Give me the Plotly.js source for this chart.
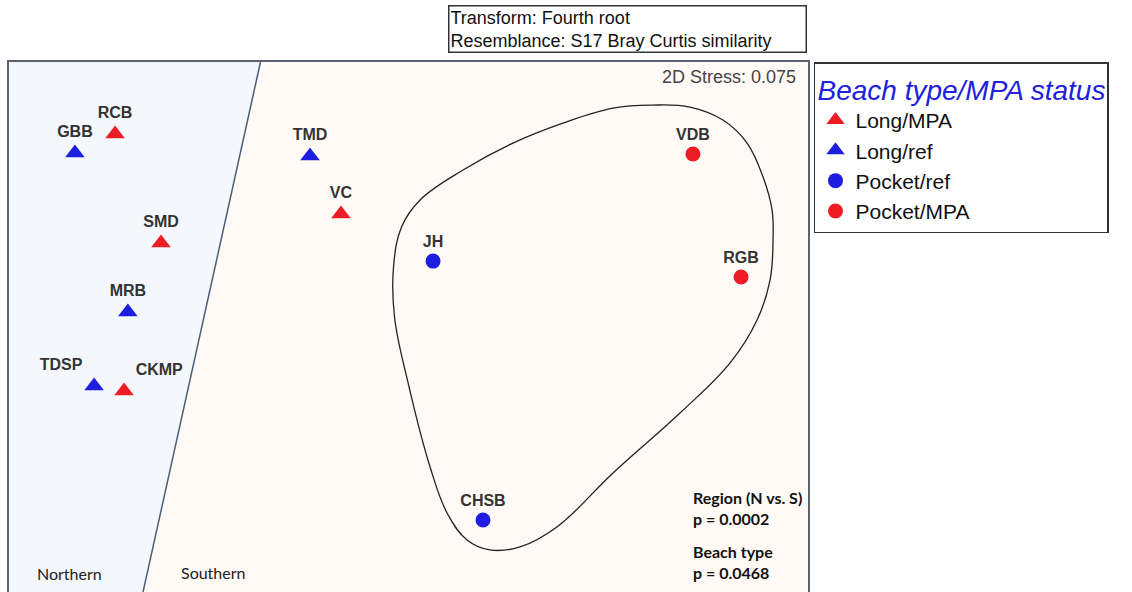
<!DOCTYPE html>
<html>
<head>
<meta charset="utf-8">
<script src="https://cdn.plot.ly/plotly-3.0.1.min.js"></script>
<style>
html,body{margin:0;padding:0;background:#fff;}
#chart{width:1132px;height:592px;}
</style>
</head>
<body>
<div id="chart"></div>
<script>
// nMDS coordinates (arbitrary MDS units)
const longMPA_names = ["RCB", "SMD", "CKMP", "VC"];
const longMPA_x = [-1.469, -1.239, -1.424, -0.338];
const longMPA_y = [0.966, 0.421, -0.320, 0.566];

const longRef_names = ["GBB", "MRB", "TDSP", "TMD"];
const longRef_x = [-1.670, -1.405, -1.574, -0.493];
const longRef_y = [0.871, 0.075, -0.295, 0.856];

const pocketRef_names = ["JH", "CHSB"];
const pocketRef_x = [0.123, 0.373];
const pocketRef_y = [0.330, -0.966];

const pocketMPA_names = ["VDB", "RGB"];
const pocketMPA_x = [1.424, 1.665];
const pocketMPA_y = [0.866, 0.250];

// cluster outline around the pocket beaches
const hull_x = [1.024, 1.359, 1.610, 1.745, 1.810, 1.825, 1.820, 1.775, 1.695, 1.574, 1.409, 1.224, 1.024, 0.773, 0.523, 0.273, 0.058, -0.035, -0.075, -0.070, -0.002, 0.108, 0.193, 0.293, 0.408, 0.558, 0.743, 1.024];
const hull_y = [-0.731, -0.431, -0.180, 0.035, 0.235, 0.436, 0.586, 0.751, 0.921, 1.036, 1.101, 1.111, 1.096, 1.021, 0.921, 0.786, 0.636, 0.501, 0.300, 0.050, -0.280, -0.701, -0.931, -1.066, -1.116, -1.101, -1.001, -0.731];

// Northern / Southern divider
const xRange = [-2, 2];
const yRange = [-1.3267, 1.3267];
const divider_x = [-0.741, -1.329];
const divider_y = [1.3267, -1.3267];

const RED = "#ee1c24", BLUE = "#1e1ee0";
const labelFont = {family: "Liberation Sans, Arial, sans-serif", size: 16, color: "#333", weight: "bold"};

function group(name, xs, ys, labels, color, symbol, size, pos) {
  return {
    type: "scatter", mode: "markers+text", name: name,
    x: xs, y: ys, text: labels, textposition: pos || "top center",
    textfont: labelFont,
    marker: {color: color, symbol: symbol, size: size, line: {width: 0}},
    cliponaxis: false, hoverinfo: "text"
  };
}

const traces = [
  {type: "scatter", mode: "lines", x: [xRange[0], divider_x[0], divider_x[1], xRange[0], xRange[0]],
   y: [yRange[1], divider_y[0], divider_y[1], yRange[0], yRange[1]],
   fill: "toself", fillcolor: "#f4f7fb", line: {width: 0}, showlegend: false, hoverinfo: "skip"},
  {type: "scatter", mode: "lines", x: divider_x, y: divider_y,
   line: {color: "#4a6078", width: 1.5}, showlegend: false, hoverinfo: "skip"},
  {type: "scatter", mode: "lines", x: hull_x, y: hull_y,
   line: {color: "#222", width: 1.3, shape: "spline", smoothing: 1.1}, showlegend: false, hoverinfo: "skip"},
  group("Long/MPA", longMPA_x, longMPA_y, longMPA_names, RED, "triangle-up", 17,
        ["top center", "top center", "top right", "top center"]),
  group("Long/ref", longRef_x, longRef_y, longRef_names, BLUE, "triangle-up", 17,
        ["top center", "top center", "top left", "top center"]),
  group("Pocket/ref", pocketRef_x, pocketRef_y, pocketRef_names, BLUE, "circle", 15),
  group("Pocket/MPA", pocketMPA_x, pocketMPA_y, pocketMPA_names, RED, "circle", 15)
];

const layout = {
  width: 1132, height: 592,
  margin: {l: 9, r: 324, t: 62, b: 0, pad: 0},
  paper_bgcolor: "#ffffff", plot_bgcolor: "#fffaf6",
  font: {family: "Liberation Sans, Arial, sans-serif", color: "#222"},
  xaxis: {range: xRange, showgrid: false, zeroline: false, showticklabels: false, ticks: "",
          showline: true, side: "top", linecolor: "#5a6470", linewidth: 2, fixedrange: true},
  yaxis: {range: yRange, showgrid: false, zeroline: false, showticklabels: false, ticks: "",
          showline: true, mirror: true, linecolor: "#5a6470", linewidth: 2, fixedrange: true},
  showlegend: true,
  legend: {x: 1.0075, y: 1, xanchor: "left", yanchor: "top",
           bordercolor: "#333", borderwidth: 1.5, bgcolor: "#fff",
           font: {size: 21, color: "#111", family: "Liberation Sans, Arial, sans-serif"},
           title: {text: "Beach type/MPA status", font: {size: 28, color: "#2020dd", style: "italic", family: "Liberation Sans, Arial, sans-serif"}},
           tracegroupgap: 0},
  annotations: [
    {xref: "paper", yref: "paper", x: 0.774, y: 1.0623, xanchor: "center", yanchor: "middle",
     text: "Transform: Fourth root<br>Resemblance: S17 Bray Curtis similarity", align: "left",
     showarrow: false, font: {size: 18, color: "#111"}, bordercolor: "#333", borderwidth: 1.5,
     borderpad: 1, width: 354, bgcolor: "#fff"},
    {xref: "paper", yref: "paper", x: 0.9875, y: 0.9717, xanchor: "right", yanchor: "middle",
     text: "2D Stress: 0.075", showarrow: false, font: {size: 18, color: "#444"}},
    {xref: "paper", yref: "paper", x: 0.0325, y: 0.0358, xanchor: "left", yanchor: "middle",
     text: "Northern", showarrow: false, font: {size: 16, color: "#222", family: "Lato, sans-serif"}},
    {xref: "paper", yref: "paper", x: 0.2128, y: 0.0377, xanchor: "left", yanchor: "middle",
     text: "Southern", showarrow: false, font: {size: 16, color: "#222", family: "Lato, sans-serif"}},
    {xref: "paper", yref: "paper", x: 0.8536, y: 0.1585, xanchor: "left", yanchor: "middle",
     text: "Region (N vs. S)<br>p = 0.0002", align: "left", showarrow: false,
     font: {size: 16, color: "#111", family: "Lato, sans-serif", weight: "bold"}},
    {xref: "paper", yref: "paper", x: 0.8536, y: 0.0575, xanchor: "left", yanchor: "middle",
     text: "Beach type<br>p = 0.0468", align: "left", showarrow: false,
     font: {size: 16, color: "#111", family: "Lato, sans-serif", weight: "bold"}}
  ]
};

Plotly.newPlot("chart", traces, layout, {displayModeBar: false, staticPlot: true});
</script>
</body>
</html>
